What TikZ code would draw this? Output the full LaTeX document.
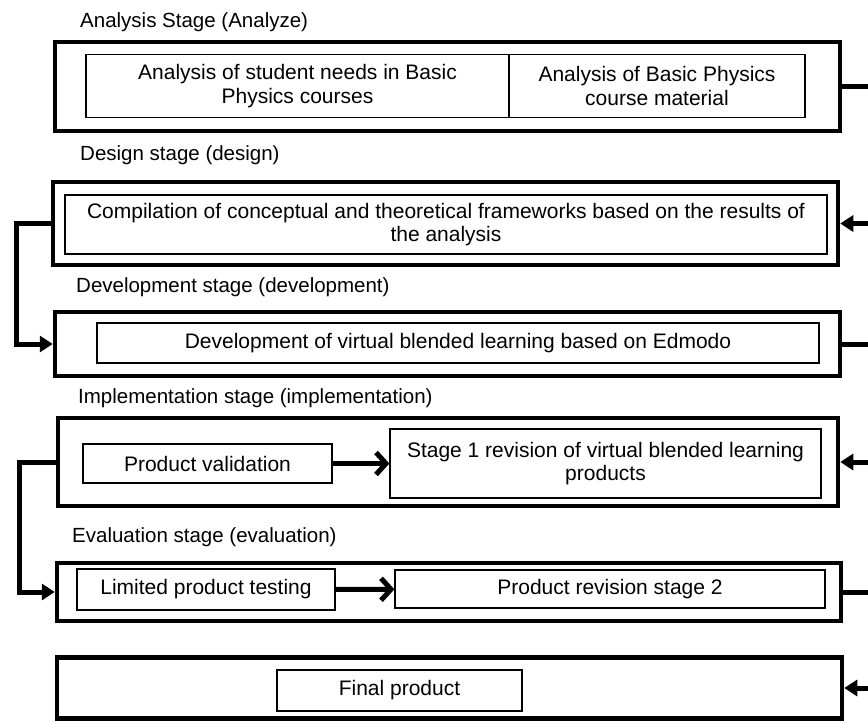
\documentclass[tikz,border=0pt]{standalone}
\usepackage{fontspec}
\setmainfont{Liberation Sans}
\usetikzlibrary{positioning,arrows.meta,calc}

\begin{document}
\begin{tikzpicture}[x=1pt,y=-1pt,
  stage/.style={draw,line width=4.5pt,inner sep=0pt},
  part/.style={draw,line width=1.2pt,inner sep=0pt,align=center,font=\fontsize{21}{23.5}\selectfont},
  ttl/.style={anchor=west,inner sep=0pt,font=\fontsize{20.5}{24}\selectfont},
  ln/.style={line width=5pt},
  a/.style={line width=5pt,-{Triangle[length=13pt,width=16pt]}},
  push/.style={line width=5pt,-{Straight Barb[length=10pt,width=22pt]}}]
  \useasboundingbox (0,0) rectangle (868,721);
  \coordinate (r) at (868,0); \coordinate (l1) at (16,0); \coordinate (l2) at (19,0);
  % stages
  \node[stage,minimum width=785pt,minimum height=89pt] (s1) at (447.5,86.5) {};
  \node[stage,minimum width=785pt,minimum height=83pt] (s2) at (445.5,223.5) {};
  \node[stage,minimum width=785pt,minimum height=64pt] (s3) at (447.5,344) {};
  \node[stage,minimum width=780pt,minimum height=88pt] (s4) at (448,462) {};
  \node[stage,minimum width=784pt,minimum height=58pt] (s5) at (449,592) {};
  \node[stage,minimum width=785pt,minimum height=61pt] (s6) at (449.5,688) {};
  \node[ttl] (t1) at (80,22) {Analysis Stage (Analyze)};
  \node[ttl] (t2) at (80,155) {Design stage (design)};
  \node[ttl] (t3) at (76,287) {Development stage (development)};
  \node[ttl] (t4) at (78,398) {Implementation stage (implementation)};
  \node[ttl] (t5) at (72,537) {Evaluation stage (evaluation)};
  % boxes inside the stages
  \node[part,minimum width=423pt,minimum height=63pt] (p1a) at (297.5,86) {Analysis of student needs in Basic\\Physics courses};
  \node[part,minimum width=296pt,minimum height=63pt] (p1b) at (657,86) {Analysis of Basic Physics\\course material};
  \node[part,minimum width=762pt,minimum height=59pt] (p2) at (446,224.5) {Compilation of conceptual and theoretical frameworks based on the results of\\the analysis};
  \node[part,minimum width=722pt,minimum height=40pt] (p3) at (458,343) {Development of virtual blended learning based on Edmodo};
  \node[part,minimum width=249pt,minimum height=39pt] (p4a) at (207.5,463.5) {Product validation};
  \node[part,minimum width=431pt,minimum height=69pt] (p4b) at (605.5,463.5) {Stage 1 revision of virtual blended learning\\products};
  \node[part,minimum width=258pt,minimum height=41pt] (p5a) at (206,589.5) {Limited product testing};
  \node[part,minimum width=430pt,minimum height=38pt] (p5b) at (610,589) {Product revision stage 2};
  \node[part,minimum width=245pt,minimum height=41pt] (p6) at (399.5,690.5) {Final product};
  \draw[push](p4a)--(p4b); \draw[push](p5a)--(p5b);
  % links on the right edge
  \draw[ln](s1.east)--(s1.east -| r); \draw[a](s2.east -| r)--(s2.east);
  \draw[ln](s3.east)--(s3.east -| r); \draw[a](s4.east -| r)--(s4.east);
  \draw[ln](s5.east)--(s5.east -| r); \draw[a](s6.east -| r)--(s6.east);
  % links on the left edge
  \draw[a](s2.west)--(s2.west -| l1) |- (s3.west);
  \draw[a](s4.west)--(s4.west -| l2) |- (s5.west);
\end{tikzpicture}
\end{document}
